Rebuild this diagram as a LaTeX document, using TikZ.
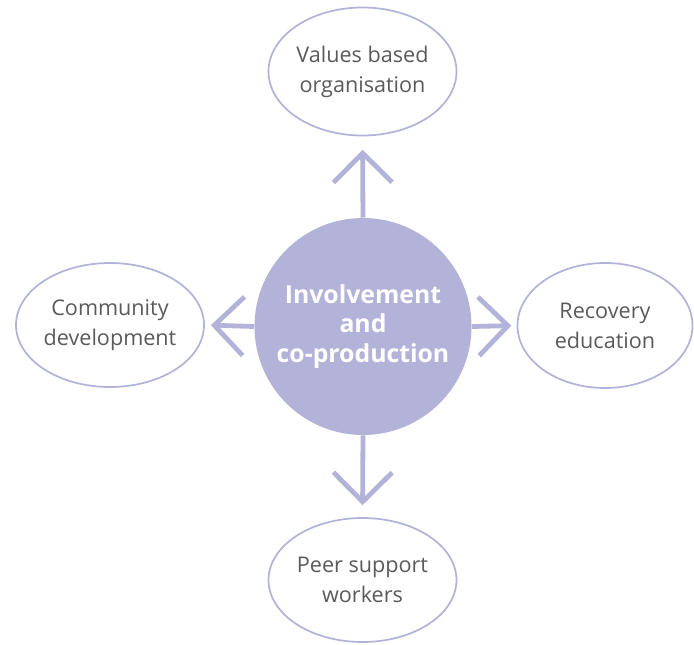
\documentclass[tikz,border=0pt]{standalone}
\usepackage{fontspec}
\setmainfont{Open Sans}
\usetikzlibrary{shapes.geometric,arrows.meta}
\definecolor{lav}{HTML}{B3B3D9}
\definecolor{txt}{HTML}{5A5A5A}
\tikzset{
  outer/.style={ellipse, draw=lav, line width=1.3pt, inner sep=0pt, text=txt,
    align=center, font=\fontsize{16.2}{22.5}\selectfont},
  hub/.style={circle, fill=lav, inner sep=0pt, minimum size=217*0.75pt, text=white,
    align=center, font=\bfseries\fontsize{18.6}{22}\selectfont},
  link/.style={draw=lav, line width=3.6pt,
    -{Straight Barb[length=22pt,width=44pt,line width=3.6pt]}}
}
\begin{document}
\begin{tikzpicture}[x=0.75pt,y=-0.75pt]
\useasboundingbox (0,0) rectangle (694,644);
\node[hub] (c) at (363,326.5) {Involvement\\and\\co-production};
\node[outer, minimum width=188*0.75pt, minimum height=128*0.75pt] (v) at (362.5,71.5) {Values based\\organisation};
\node[outer, minimum width=188*0.75pt, minimum height=124*0.75pt] (l) at (110,325) {Community\\development};
\node[outer, minimum width=175*0.75pt, minimum height=125*0.75pt] (r) at (605,325.5) {Recovery\\education};
\node[outer, minimum width=188*0.75pt, minimum height=124*0.75pt] (b) at (362.5,580) {Peer support\\workers};
\draw[link, shorten >=10pt] (c.north) -- (v.south);
\draw[link, shorten >=4.5pt] (c.west) -- (l.east);
\draw[link, shorten >=4pt] (c.east) -- (r.west);
\draw[link, shorten >=9pt] (c.south) -- (b.north);
\end{tikzpicture}
\end{document}
